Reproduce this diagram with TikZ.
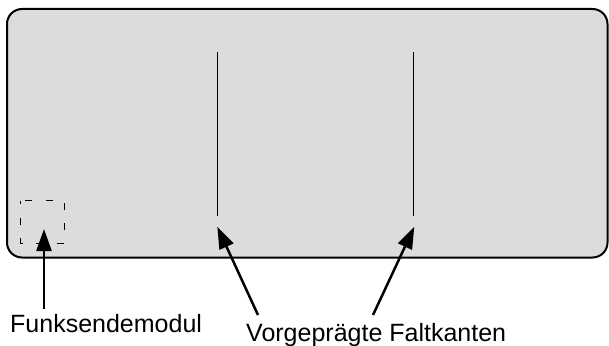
\documentclass[tikz,border=0pt]{standalone}
\usepackage{fontspec}
\setmainfont{Liberation Sans}
\usetikzlibrary{arrows.meta}
\definecolor{cardgray}{RGB}{220,220,220}
\tikzset{
  card/.style={draw=black, line width=2pt, fill=cardgray, rounded corners=15pt},
  fold/.style={draw=black, line width=1pt},
  module/.style={draw=black, line width=1pt, dash pattern=on 7pt off 13.5pt, dash phase=3.5pt},
  pointer/.style={draw=black, line width=2.5pt, -{Triangle[length=22pt,width=15pt]}},
  caption/.style={font=\fontsize{25}{29}\selectfont, inner sep=0pt, anchor=base west}
}
\begin{document}
\begin{tikzpicture}[x=1pt,y=-1pt]
\useasboundingbox (0,0) rectangle (609,345);
\draw[card] (7,9) rectangle (607.5,257.5);
\coordinate (f1top) at (217,52);
\coordinate (f1bot) at (217,216);
\coordinate (f2top) at (413.3,52);
\coordinate (f2bot) at (413.3,216);
\draw[fold] (f1top) -- (f1bot);
\draw[fold] (f2top) -- (f2bot);
\draw[module] (20.5,200.5) rectangle (64,243);
\node[caption] (fm) at (10,332) {Funksendemodul};
\node[caption] (vf) at (246,341) {Vorgeprägte Faltkanten};
\coordinate (tfm) at (44,309);
\coordinate (hfm) at (44,229);
\coordinate (t1) at (258,315);
\coordinate (h1) at (217.3,226.7);
\coordinate (t2) at (373,315);
\coordinate (h2) at (414.3,226.7);
\draw[pointer] (tfm) -- (hfm);
\draw[pointer] (t1) -- (h1);
\draw[pointer] (t2) -- (h2);
\end{tikzpicture}
\end{document}
